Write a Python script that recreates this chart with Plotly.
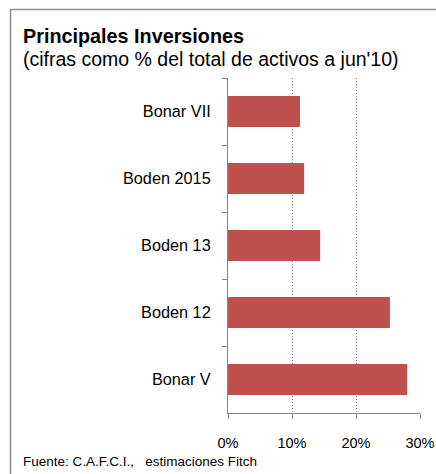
import plotly.graph_objects as go

categories = ["Bonar VII", "Boden 2015", "Boden 13", "Boden 12", "Bonar V"]
values = [11.25, 11.9, 14.4, 25.3, 28.0]
x_ticks = [0, 10, 20, 30]
x_tick_labels = ["0%", "10%", "20%", "30%"]

W, H = 436, 474
L, R, T, B = 228, 16, 78, 61
PW, PH = W - L - R, H - T - B

def px(xp):
    return (xp - L) / PW

def py(yp):
    return (H - B - yp) / PH

FONT = "Liberation Sans"

fig = go.Figure(go.Bar(
    y=categories, x=values, orientation="h",
    marker=dict(color="#C0504D", line=dict(width=0)),
    width=0.46, hoverinfo="skip",
))

fig.update_layout(
    width=W, height=H,
    margin=dict(l=L, r=R, t=T, b=B),
    paper_bgcolor="white", plot_bgcolor="white",
    showlegend=False,
    font=dict(family=FONT, color="#000000", size=14),
    xaxis=dict(
        range=[0, 30], tickvals=x_ticks, ticktext=x_tick_labels,
        showgrid=True, gridcolor="#868686", griddash="1px,2px", gridwidth=1,
        showline=True, linecolor="#868686", linewidth=1,
        ticks="outside", ticklen=5, tickcolor="#868686",
        zeroline=False, tickfont=dict(size=14.5, family=FONT),
        ticklabelstandoff=12, automargin=False,
    ),
    yaxis=dict(
        autorange="reversed", type="category",
        showgrid=False, showline=True, linecolor="#868686", linewidth=1,
        ticks="outside", ticklen=5, tickcolor="#868686", tickson="boundaries",
        tickfont=dict(size=16.3, family=FONT), ticklabelstandoff=13, automargin=False,
    ),
    shapes=[
        dict(type="line", xref="paper", yref="paper", x0=px(10), x1=px(436), y0=py(9.5), y1=py(9.5),
             line=dict(color="#8C8C8C", width=1.5)),
        dict(type="line", xref="paper", yref="paper", x0=px(10.5), x1=px(10.5), y0=py(9), y1=py(474),
             line=dict(color="#8C8C8C", width=1.5)),
    ],
    annotations=[
        dict(text="<b>Principales Inversiones</b>", xref="paper", yref="paper",
             x=px(21), y=py(36), xanchor="left", yanchor="middle", showarrow=False,
             font=dict(size=19.8, family=FONT)),
        dict(text="(cifras como % del total de activos a jun'10)", xref="paper", yref="paper",
             x=px(21), y=py(59), xanchor="left", yanchor="middle", showarrow=False,
             font=dict(size=19.5, family=FONT)),
        dict(text="Fuente: C.A.F.C.I.,   estimaciones Fitch", xref="paper", yref="paper",
             x=px(21), y=py(461), xanchor="left", yanchor="middle", showarrow=False,
             font=dict(size=13.5, family=FONT)),
    ],
)

fig.write_html("out.html", config={"displayModeBar": False},
               post_script="document.body.style.margin='0';")
